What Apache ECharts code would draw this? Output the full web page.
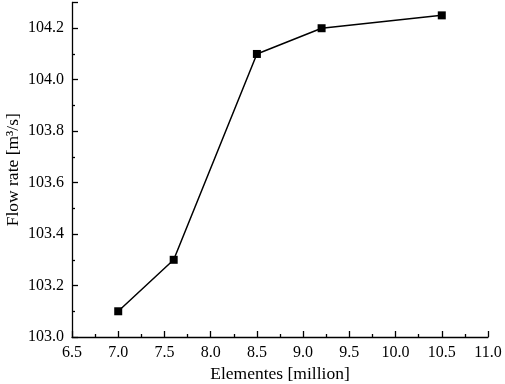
<!DOCTYPE html>
<html>
<head>
<meta charset="utf-8">
<script src="https://cdn.jsdelivr.net/npm/echarts@6/dist/echarts.min.js"></script>
<style>
  html, body { margin: 0; padding: 0; background: #fff; }
  #chart { width: 505px; height: 384px; }
</style>
</head>
<body>
<div id="chart"></div>
<script>
var elements = [7.0, 7.6, 8.5, 9.2, 10.5];
var flowRate = [103.1, 103.3, 104.1, 104.2, 104.25];

var myChart = echarts.init(document.getElementById("chart"));
var font = "'Liberation Serif', 'Times New Roman', serif";

var option = {
  animation: false,
  textStyle: { fontFamily: font },
  grid: { left: 72, right: 17, top: 2.5, bottom: 47, containLabel: false, outerBoundsMode: "none" },
  xAxis: {
    type: "value",
    min: 6.5,
    max: 11.0,
    interval: 0.5,
    name: "Elementes [million]",
    nameLocation: "middle",
    nameGap: 27,
    nameTextStyle: { fontFamily: font, fontSize: 17.5, color: "#000", verticalAlign: "top" },
    axisLine: { onZero: false, lineStyle: { color: "#000", width: 1.3 } },
    axisTick: { inside: true, length: 6, lineStyle: { color: "#000", width: 1.3 } },
    minorTick: { show: true, splitNumber: 2, length: 3, lineStyle: { color: "#000", width: 1.3 } },
    axisLabel: {
      fontFamily: font, fontSize: 16, color: "#000", margin: 8,
      formatter: function (v) { return v.toFixed(1); }
    },
    splitLine: { show: false }
  },
  yAxis: {
    type: "value",
    min: 103.0,
    max: 104.3,
    interval: 0.2,
    name: "Flow rate [m³/s]",
    nameLocation: "middle",
    nameGap: 50,
    nameMoveOverlap: false,
    nameTextStyle: { fontFamily: font, fontSize: 17.5, color: "#000" },
    axisLine: { show: true, lineStyle: { color: "#000", width: 1.3 } },
    axisTick: { show: true, inside: true, length: 6, lineStyle: { color: "#000", width: 1.3 } },
    minorTick: { show: true, splitNumber: 2, length: 3, lineStyle: { color: "#000", width: 1.3 } },
    axisLabel: {
      fontFamily: font, fontSize: 16, color: "#000", margin: 8, showMaxLabel: false,
      formatter: function (v) { return v.toFixed(1); }
    },
    splitLine: { show: false }
  },
  series: [
    {
      type: "line",
      data: elements.map(function (x, i) { return [x, flowRate[i]]; }),
      symbol: "rect",
      symbolSize: 8,
      lineStyle: { color: "#000", width: 1.5 },
      itemStyle: { color: "#000" }
    }
  ]
};
myChart.setOption(option);
</script>
</body>
</html>
